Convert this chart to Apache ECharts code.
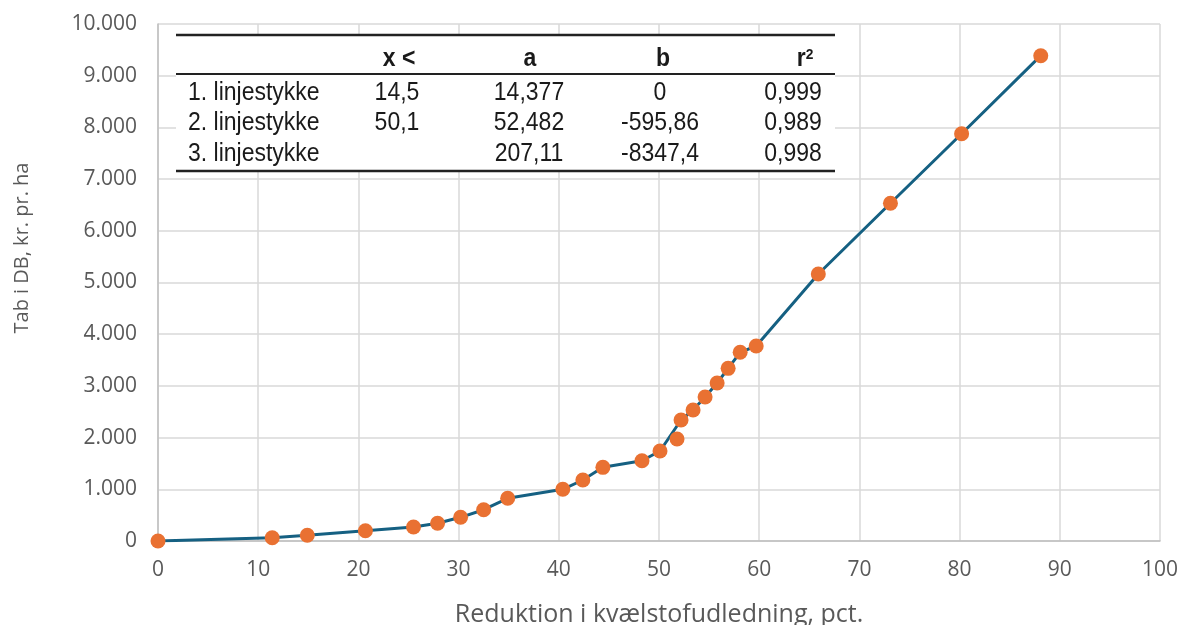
<!DOCTYPE html>
<html>
<head>
<meta charset="utf-8">
<script src="https://cdn.jsdelivr.net/npm/echarts@6/dist/echarts.min.js"></script>
<style>
  html, body { margin: 0; padding: 0; background: #fff; }
  #chart { width: 1180px; height: 625px; }
</style>
</head>
<body>
<div id="chart"></div>
<script>
// observed points (reduction pct, loss kr/ha)
var reduktion = [0, 11.4, 14.9, 20.7, 25.5, 27.9, 30.2, 32.5, 34.9, 40.4, 42.4, 44.4, 48.3, 50.1, 51.8,
    52.2, 53.4, 54.6, 55.8, 56.9, 58.1, 59.7, 65.9, 73.1, 80.2, 88.1];
var tab = [0, 64, 110, 199, 271, 342, 458, 605, 826, 1000, 1180, 1425, 1553, 1741, 1973,
    2340, 2534, 2785, 3056, 3340, 3650, 3772, 5164, 6532, 7878, 9387];
// the line skips the point at 51,8
var linjeX = [0, 11.4, 14.9, 20.7, 25.5, 27.9, 30.2, 32.5, 34.9, 40.4, 42.4, 44.4, 48.3, 50.1,
    52.2, 53.4, 54.6, 55.8, 56.9, 58.1, 59.7, 65.9, 73.1, 80.2, 88.1];
var linjeY = [0, 64, 110, 199, 271, 342, 458, 605, 826, 1000, 1180, 1425, 1553, 1741,
    2340, 2534, 2785, 3056, 3340, 3650, 3772, 5164, 6532, 7878, 9387];

// table in the plot
var tabelHoved = ["", "x <", "a", "b", "r{sup|2}"];
var tabelRaekker = [
    ["1. linjestykke", "14,5", "14,377", "0", "0,999"],
    ["2. linjestykke", "50,1", "52,482", "-595,86", "0,989"],
    ["3. linjestykke", "", "207,11", "-8347,4", "0,998"]
];

var chart = echarts.init(document.getElementById('chart'));

function zip(xs, ys) {
    var out = [];
    for (var i = 0; i < xs.length; ++i) {
        out.push([xs[i], ys[i]]);
    }
    return out;
}

function tusind(v) {
    return String(v).replace(/\B(?=(\d{3})+(?!\d))/g, '.');
}

// table graphics
var tx = 176, tw = 659;
var colX = [188, 397, 529, 660, 793];
var hovedX = [188, 399, 530, 663, 805];
var rowY = [59.5, 93, 123.5, 154];
var tableFont = '"Liberation Sans", Arial, sans-serif';
var graphic = [
    { type: 'rect', shape: { x: tx, y: 35, width: tw, height: 136 }, style: { fill: '#fff' }, z: 10 },
    { type: 'line', shape: { x1: tx, y1: 35, x2: tx + tw, y2: 35 }, style: { stroke: '#222', lineWidth: 2.5 }, z: 11 },
    { type: 'line', shape: { x1: tx, y1: 74, x2: tx + tw, y2: 74 }, style: { stroke: '#222', lineWidth: 2 }, z: 11 },
    { type: 'line', shape: { x1: tx, y1: 171, x2: tx + tw, y2: 171 }, style: { stroke: '#222', lineWidth: 2.5 }, z: 11 }
];
function addCell(text, x, y, c, bold) {
    graphic.push({
        type: 'text', z: 12,
        x: x, y: y,
        scaleX: 0.92,
        style: {
            text: text,
            font: (bold ? 'bold ' : '') + '25px ' + tableFont,
            fill: '#1a1a1a',
            align: c == 0 ? 'left' : 'center',
            verticalAlign: 'middle',
            rich: {
                sup: { fontSize: 15, fontWeight: 'bold', fontFamily: tableFont, verticalAlign: 'top', padding: [0, 0, 10, 0] }
            }
        }
    });
}
for (var c = 1; c < tabelHoved.length; ++c) {
    addCell(tabelHoved[c], hovedX[c], rowY[0], c, true);
}
for (var r = 0; r < tabelRaekker.length; ++r) {
    for (var c2 = 0; c2 < tabelRaekker[r].length; ++c2) {
        addCell(tabelRaekker[r][c2], colX[c2], rowY[r + 1], c2, false);
    }
}

var option = {
    animation: false,
    backgroundColor: '#fff',
    grid: { left: 158, right: 20, top: 24, bottom: 84, outerBoundsMode: 'none', containLabel: false },
    xAxis: {
        type: 'value',
        min: 0, max: 100, interval: 10,
        name: 'Reduktion i kvælstofudledning, pct.',
        nameLocation: 'middle',
        nameGap: 61,
        nameTextStyle: { fontSize: 25, color: '#595959', fontFamily: 'Open Sans, sans-serif' },
        axisLine: { show: true, lineStyle: { color: '#bfbfbf', width: 1.5 } },
        axisTick: { show: false },
        axisLabel: { fontSize: 21, color: '#595959', margin: 19, fontFamily: 'Open Sans, sans-serif' },
        splitLine: { show: true, lineStyle: { color: '#d9d9d9', width: 1.5 } }
    },
    yAxis: {
        type: 'value',
        min: 0, max: 10000, interval: 1000,
        name: 'Tab i DB, kr. pr. ha',
        nameLocation: 'middle',
        nameGap: 126,
        nameTextStyle: { fontSize: 20, color: '#595959', fontFamily: 'Open Sans, sans-serif', padding: [0, 0, 0, 69] },
        axisLine: { show: true, lineStyle: { color: '#bfbfbf', width: 1.5 } },
        axisTick: { show: false },
        axisLabel: { fontSize: 21, color: '#595959', margin: 21, fontFamily: 'Open Sans, sans-serif', formatter: tusind },
        splitLine: { show: true, lineStyle: { color: '#d9d9d9', width: 1.5 } }
    },
    series: [
        {
            type: 'line',
            data: zip(linjeX, linjeY),
            showSymbol: false,
            lineStyle: { color: '#156082', width: 3 },
            z: 2
        },
        {
            type: 'scatter',
            data: zip(reduktion, tab),
            symbolSize: 15,
            itemStyle: { color: '#e97132', opacity: 1 },
            z: 3
        }
    ],
    graphic: graphic
};
chart.setOption(option);
</script>
</body>
</html>
